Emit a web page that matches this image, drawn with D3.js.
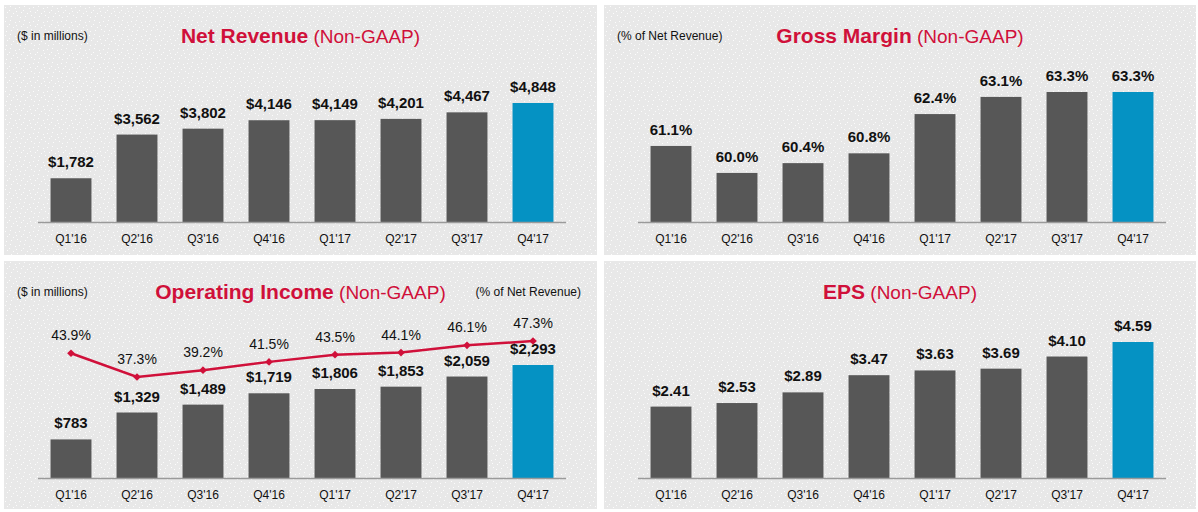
<!DOCTYPE html>
<html>
<head>
<meta charset="utf-8">
<script src="https://cdn.jsdelivr.net/npm/d3@7"></script>
<style>
  html, body { margin: 0; padding: 0; background: #ffffff; }
  svg { display: block; font-family: "Liberation Sans", Arial, sans-serif; }
</style>
</head>
<body>
<svg id="chart" width="1198" height="512"></svg>
<script>
// ---------- data ----------
const quarters = ["Q1'16", "Q2'16", "Q3'16", "Q4'16", "Q1'17", "Q2'17", "Q3'17", "Q4'17"];
const netRevenue = [1782, 3562, 3802, 4146, 4149, 4201, 4467, 4848];
const netRevenueLabels = ["$1,782", "$3,562", "$3,802", "$4,146", "$4,149", "$4,201", "$4,467", "$4,848"];
const grossMargin = [61.1, 60.0, 60.4, 60.8, 62.4, 63.1, 63.3, 63.3];
const grossMarginLabels = ["61.1%", "60.0%", "60.4%", "60.8%", "62.4%", "63.1%", "63.3%", "63.3%"];
const operatingIncome = [783, 1329, 1489, 1719, 1806, 1853, 2059, 2293];
const operatingIncomeLabels = ["$783", "$1,329", "$1,489", "$1,719", "$1,806", "$1,853", "$2,059", "$2,293"];
const operatingMargin = [43.9, 37.3, 39.2, 41.5, 43.5, 44.1, 46.1, 47.3];
const operatingMarginLabels = ["43.9%", "37.3%", "39.2%", "41.5%", "43.5%", "44.1%", "46.1%", "47.3%"];
const eps = [2.41, 2.53, 2.89, 3.47, 3.63, 3.69, 4.10, 4.59];
const epsLabels = ["$2.41", "$2.53", "$2.89", "$3.47", "$3.63", "$3.69", "$4.10", "$4.59"];

// ---------- styles ----------
const RED = "#d0103a";
const GRAY = "#575757";
const BLUE = "#0592c3";
const PANEL_BG = "#e8e8e8";

const svg = d3.select("#chart");

// dotted texture pattern
const defs = svg.append("defs");
const pat = defs.append("pattern").attr("id", "dots")
  .attr("width", 14).attr("height", 14).attr("patternUnits", "userSpaceOnUse");
pat.append("rect").attr("width", 14).attr("height", 14).attr("fill", PANEL_BG);
[[1,2],[6,1],[11,3],[3,7],[9,8],[13,10],[2,12],[7,11],[5,5],[12,6]].forEach(([x,y]) => {
  pat.append("rect").attr("x", x).attr("y", y).attr("width", 1).attr("height", 1)
    .attr("fill", "#ffffff").attr("opacity", 0.85);
});

function drawPanel(cfg) {
  const g = svg.append("g").attr("transform", `translate(${cfg.x},${cfg.y})`);
  g.append("rect").attr("width", cfg.w).attr("height", cfg.h).attr("fill", "url(#dots)");

  // title
  const title = g.append("text").attr("x", cfg.w / 2).attr("y", cfg.titleY)
    .attr("text-anchor", "middle").attr("fill", RED);
  title.append("tspan").attr("font-weight", "bold").attr("font-size", 21).text(cfg.title);
  title.append("tspan").attr("font-size", 19).text(" (Non-GAAP)");

  if (cfg.leftNote) {
    g.append("text").attr("x", 13).attr("y", cfg.titleY - 3).attr("font-size", 12)
      .attr("fill", "#111").text(cfg.leftNote);
  }
  if (cfg.rightNote) {
    g.append("text").attr("x", cfg.w - 16).attr("y", cfg.titleY - 3).attr("font-size", 12)
      .attr("text-anchor", "end").attr("fill", "#111").text(cfg.rightNote);
  }

  const x = d3.scaleBand().domain(quarters).range([34, 562])
    .paddingInner(0.38).paddingOuter(0.19);
  const y = d3.scaleLinear().domain(cfg.domain).range([cfg.base, cfg.top]);

  g.selectAll("rect.bar").data(cfg.values).join("rect").attr("class", "bar")
    .attr("x", (d, i) => x(quarters[i]))
    .attr("width", x.bandwidth())
    .attr("y", d => y(d))
    .attr("height", d => cfg.base - y(d))
    .attr("fill", (d, i) => i === quarters.length - 1 ? BLUE : GRAY);

  g.selectAll("text.val").data(cfg.values).join("text").attr("class", "val")
    .attr("x", (d, i) => x(quarters[i]) + x.bandwidth() / 2)
    .attr("y", d => y(d) - 11)
    .attr("text-anchor", "middle").attr("font-weight", "bold").attr("font-size", 15)
    .attr("fill", "#111")
    .text((d, i) => cfg.labels[i]);

  // axis
  const axis = g.append("g").attr("transform", `translate(0,${cfg.base})`)
    .call(d3.axisBottom(x).tickSize(0).tickPadding(12));
  axis.select(".domain").attr("stroke", "#9a9a9a").attr("stroke-width", 1.5)
    .attr("d", "M34,0.5H562");
  axis.selectAll(".tick text").attr("font-size", 12).attr("fill", "#111")
    .attr("font-family", "Liberation Sans, Arial, sans-serif");

  return { g, x };
}

drawPanel({ x: 4, y: 5, w: 593, h: 250, title: "Net Revenue", leftNote: "($ in millions)",
  titleY: 38, base: 217, top: 98, domain: [0, 4848], values: netRevenue, labels: netRevenueLabels });

drawPanel({ x: 604, y: 5, w: 592, h: 250, title: "Gross Margin", leftNote: "(% of Net Revenue)",
  titleY: 38, base: 217, top: 87, domain: [58.0, 63.3], values: grossMargin, labels: grossMarginLabels });

const p3 = drawPanel({ x: 4, y: 261, w: 593, h: 248, title: "Operating Income", leftNote: "($ in millions)",
  rightNote: "(% of Net Revenue)",
  titleY: 38, base: 217, top: 104, domain: [0, 2293], values: operatingIncome, labels: operatingIncomeLabels });

// operating margin line
{
  const { g, x } = p3;
  const ym = d3.scaleLinear().domain([37.3, 47.3]).range([116, 80]);
  const cx = (i) => x(quarters[i]) + x.bandwidth() / 2;
  const line = d3.line().x((d, i) => cx(i)).y(d => ym(d));
  g.append("path").datum(operatingMargin).attr("d", line)
    .attr("fill", "none").attr("stroke", RED).attr("stroke-width", 2.5);
  g.selectAll("path.mk").data(operatingMargin).join("path").attr("class", "mk")
    .attr("d", d3.symbol(d3.symbolDiamond2, 38))
    .attr("transform", (d, i) => `translate(${cx(i)},${ym(d)})`)
    .attr("fill", RED);
  g.selectAll("text.pct").data(operatingMargin).join("text").attr("class", "pct")
    .attr("x", (d, i) => cx(i)).attr("y", d => ym(d) - 13)
    .attr("text-anchor", "middle").attr("font-size", 14).attr("fill", "#111")
    .text((d, i) => operatingMarginLabels[i]);
}

drawPanel({ x: 604, y: 261, w: 592, h: 248, title: "EPS",
  titleY: 38, base: 217, top: 81, domain: [0, 4.59], values: eps, labels: epsLabels });
</script>
</body>
</html>
